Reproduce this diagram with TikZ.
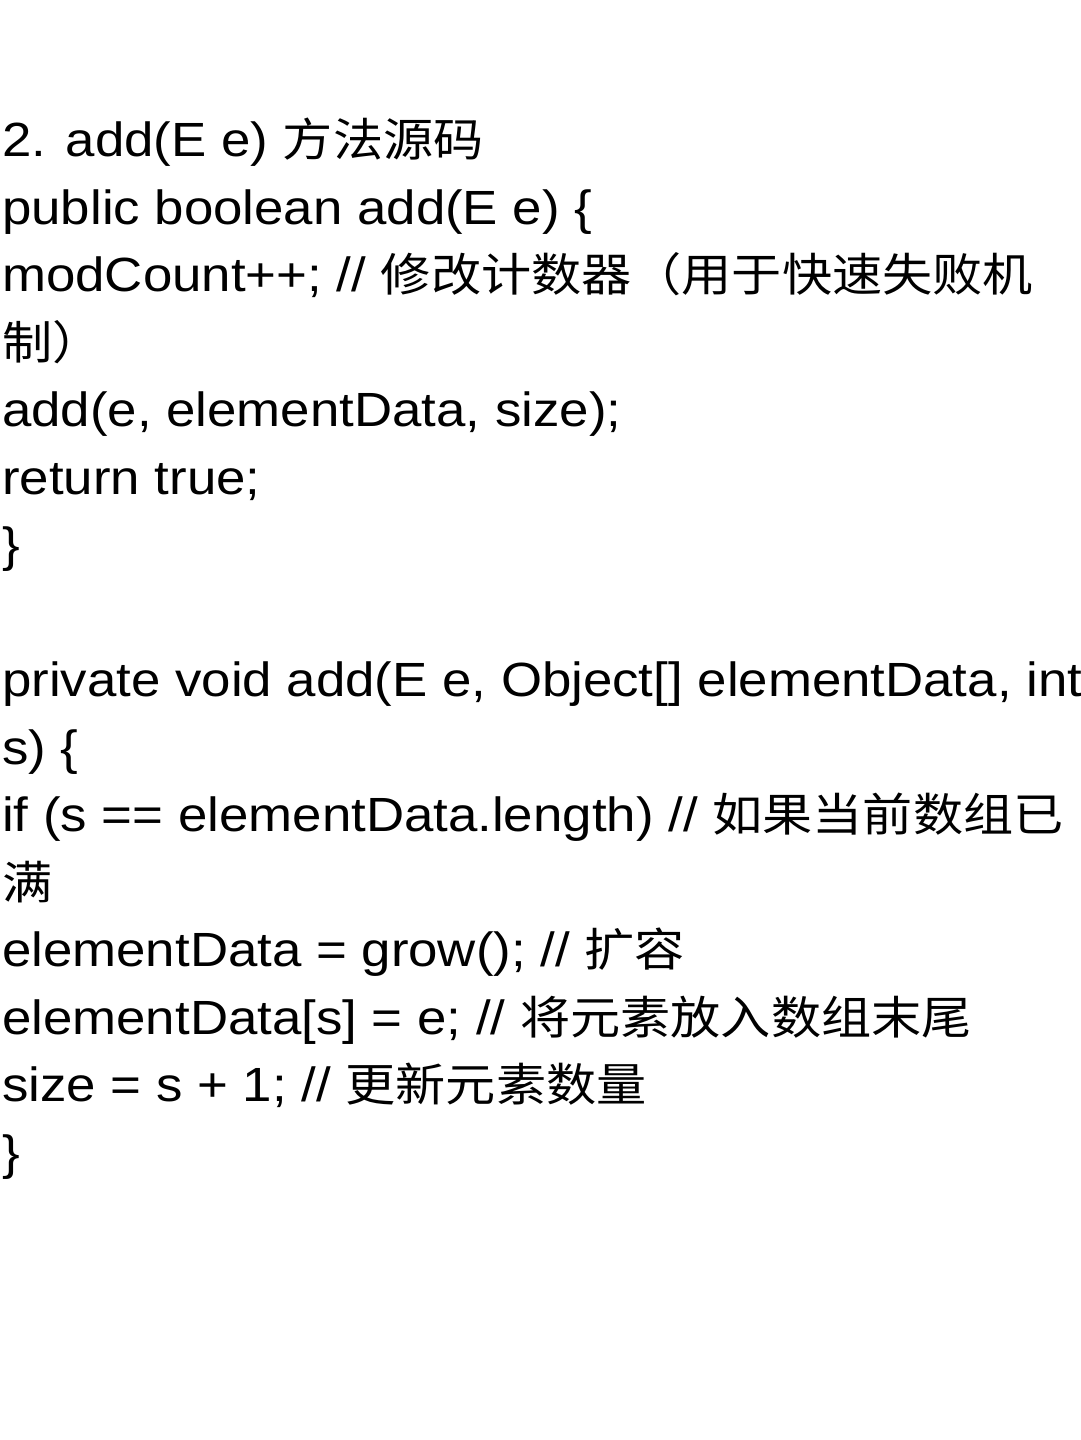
\documentclass[tikz,border=0pt]{standalone}
\usepackage{fontspec}
\setmainfont{Liberation Sans}
\newfontfamily\cjk[Scale=0.95]{Noto Sans CJK SC}
\begin{document}
\begin{tikzpicture}[x=1pt,y=1pt]
\tikzset{codeline/.style={anchor=base west,inner sep=0pt,xscale=1.1,transform shape,font=\fontsize{48}{48}\selectfont}}
\fill[white] (0,0) rectangle (1080,1440);
\useasboundingbox (0,0) rectangle (1080,1440);
\node[codeline] (l1) at (2,1283) {2. add(E e) {\cjk 方法源码}};
\node[codeline] (l2) at (2,1215.5) {public boolean add(E e) \{};
\node[codeline] (l3) at (2,1148) {modCount++; // {\cjk 修改计数器（用于快速失败机}};
\node[codeline] (l4) at (2,1080.5) {{\cjk 制）}};
\node[codeline] (l5) at (2,1013) {add(e, elementData, size);};
\node[codeline] (l6) at (2,945.5) {return true;};
\node[codeline] (l7) at (2,878) {\}};
\node[codeline] (l9) at (2,743) {private void add(E e, Object[] elementData, int};
\node[codeline] (l10) at (2,675.5) {s) \{};
\node[codeline] (l11) at (2,608) {if (s == elementData.length) // {\cjk 如果当前数组已}};
\node[codeline] (l12) at (2,540.5) {{\cjk 满}};
\node[codeline] (l13) at (2,473) {elementData = grow(); // {\cjk 扩容}};
\node[codeline] (l14) at (2,405.5) {elementData[s] = e; // {\cjk 将元素放入数组末尾}};
\node[codeline] (l15) at (2,338) {size = s + 1; // {\cjk 更新元素数量}};
\node[codeline] (l16) at (2,270.5) {\}};
\end{tikzpicture}
\end{document}
